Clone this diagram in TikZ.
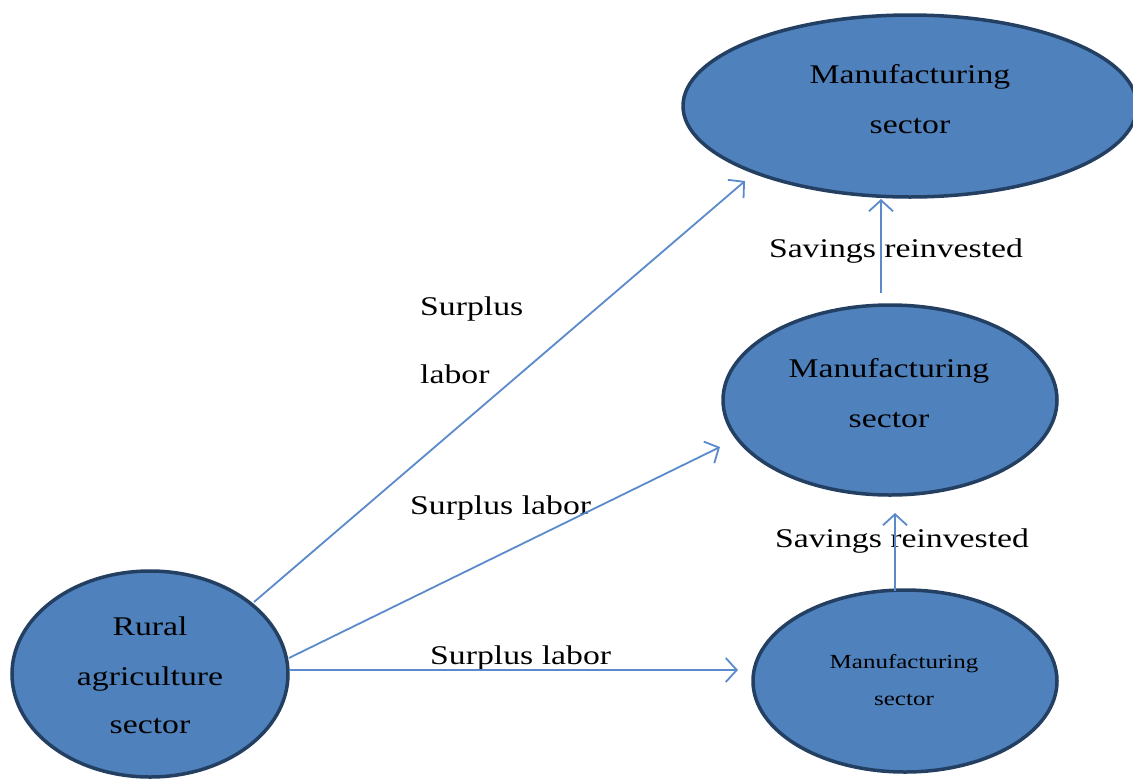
\documentclass[tikz,border=0pt]{standalone}
\usepackage{fontspec}
\setmainfont{Liberation Serif}[FakeStretch=1.25]
\usetikzlibrary{arrows.meta,shapes.geometric}
\definecolor{sfill}{HTML}{4F81BD}
\definecolor{sline}{HTML}{233F62}
\definecolor{aline}{HTML}{5A8ACB}
\tikzset{
  sector/.style={ellipse, draw=sline, fill=sfill, line width=3.5pt, inner sep=0pt},
  flow/.style={draw=aline, line width=1.8pt, -{Straight Barb[length=11pt,width=24pt,line width=1.8pt]}},
  lbl/.style={anchor=base, inner sep=0pt, font=\fontsize{27}{32}\selectfont},
  lblw/.style={anchor=base west, inner sep=0pt, font=\fontsize{27}{32}\selectfont},
  small/.style={anchor=base, inner sep=0pt, font=\fontsize{20}{24}\selectfont}
}
\begin{document}
\begin{tikzpicture}[x=1pt,y=-1pt]
\useasboundingbox (0,0) rectangle (1133,780);
% ellipses
\node[sector, minimum width=454pt, minimum height=182pt] (top) at (910,106) {};
\node[sector, minimum width=334pt, minimum height=190pt] (mid) at (890,400) {};
\node[sector, minimum width=304pt, minimum height=182pt] (low) at (905,681) {};
\node[sector, minimum width=276pt, minimum height=206pt] (agri) at (150,674) {};
% ellipse texts
\node[lbl] (t1) at (910,83) {Manufacturing};
\node[lbl] (t2) at (910,133) {sector};
\node[lbl] (m1) at (889,377) {Manufacturing};
\node[lbl] (m2) at (889,427) {sector};
\node[small] (l1) at (904,668) {Manufacturing};
\node[small] (l2) at (904,705) {sector};
\node[lbl] (r1) at (150,635) {Rural};
\node[lbl] (r2) at (150,685) {agriculture};
\node[lbl] (r3) at (150,733) {sector};
% labels
\node[lbl] (sav1) at (896,257) {Savings reinvested};
\node[lbl] (sav2) at (902,547) {Savings reinvested};
\node[lblw] (sp1) at (420,315) {Surplus};
\node[lblw] (sp2) at (420,383) {labor};
\node[lblw] (sp3) at (410,514) {Surplus labor};
\node[lblw] (sp4) at (430,664) {Surplus labor};
% connector coordinates
\coordinate (a1s) at (254,602);
\coordinate (a1e) at (745,181);
\coordinate (a2s) at (289,658);
\coordinate (a2e) at (720,447);
\coordinate (a3s) at (289,670);
\coordinate (a3e) at (738,670);
\coordinate (v1s) at (881,293);
\coordinate (v1e) at (881,199);
\coordinate (v2s) at (895,591);
\coordinate (v2e) at (895,513);
% connectors
\draw[flow] (a1s) -- (a1e);
\draw[flow] (a2s) -- (a2e);
\draw[flow] (a3s) -- (a3e);
\draw[flow] (v1s) -- (v1e);
\draw[flow] (v2s) -- (v2e);
\end{tikzpicture}
\end{document}
